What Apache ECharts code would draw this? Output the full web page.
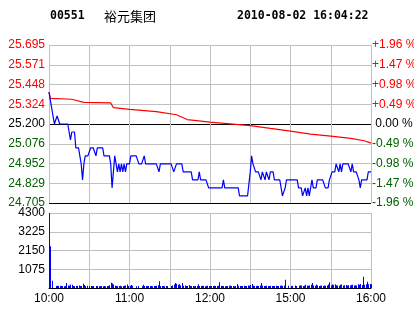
<!DOCTYPE html>
<html><head><meta charset="utf-8">
<script src="https://cdn.jsdelivr.net/npm/echarts@6/dist/echarts.min.js"></script>
<style>html,body{margin:0;padding:0;background:#fff}#c{width:414px;height:314px}</style>
</head><body><div id="c"></div>
<script>
const stockCode = '00551';
const stockName = '裕元集团';
const stamp = '2010-08-02 16:04:22';
const priceMin = 24.705, priceMax = 25.695;
const leftTicks = ['24.705','24.829','24.952','25.076','25.200','25.324','25.448','25.571','25.695'];
const rightTicks = ['-1.96 %','-1.47 %','-0.98 %','-0.49 %',' 0.00 %','+0.49 %','+0.98 %','+1.47 %','+1.96 %'];
const volMax = 4300, volStep = 1075;
const timeTicks = [0, 60, 120, 180, 240];
const timeLabels = ['10:00','11:00','12:00','15:00','16:00'];

// last price per minute (0 = 10:00 ... 240 = 16:00, lunch break removed)
const price = [
25.40,25.35,25.30,25.25,25.20,25.20,25.25,25.25,25.20,25.20,
25.20,25.20,25.20,25.20,25.20,25.15,25.10,25.15,25.15,25.15,
25.05,25.05,25.05,25.00,24.95,24.85,24.95,25.00,25.00,25.00,
25.00,25.05,25.05,25.05,25.05,25.00,25.05,25.05,25.05,25.05,
25.05,25.00,25.00,25.00,25.00,25.00,24.95,24.80,24.90,25.00,
24.95,24.90,24.95,24.90,24.95,24.90,24.95,24.90,24.95,24.95,
24.95,25.00,25.00,25.00,25.00,25.00,25.00,24.95,24.95,24.95,
24.95,25.00,24.95,24.95,24.95,24.95,24.95,24.95,24.95,24.95,
24.95,24.95,24.90,24.95,24.95,24.95,24.95,24.95,24.95,24.95,
24.95,24.95,24.95,24.90,24.90,24.95,24.95,24.95,24.95,24.95,
24.90,24.90,24.90,24.90,24.90,24.90,24.90,24.85,24.85,24.85,
24.85,24.85,24.90,24.85,24.85,24.85,24.85,24.85,24.85,24.80,
24.80,24.80,24.80,24.80,24.80,24.80,24.80,24.80,24.80,24.80,
24.85,24.80,24.80,24.80,24.80,24.80,24.80,24.80,24.80,24.80,
24.80,24.80,24.75,24.75,24.75,24.75,24.75,24.75,24.75,24.75,
24.90,25.00,24.95,24.95,24.90,24.90,24.90,24.90,24.85,24.90,
24.90,24.85,24.90,24.90,24.85,24.90,24.90,24.90,24.85,24.85,
24.85,24.85,24.85,24.80,24.75,24.75,24.80,24.85,24.85,24.85,
24.85,24.85,24.85,24.85,24.85,24.85,24.80,24.80,24.80,24.75,
24.75,24.80,24.75,24.80,24.75,24.80,24.85,24.80,24.80,24.80,
24.85,24.85,24.85,24.85,24.85,24.85,24.80,24.80,24.80,24.85,
24.85,24.90,24.90,24.90,24.95,24.95,24.90,24.95,24.90,24.95,
24.95,24.95,24.95,24.95,24.95,24.90,24.95,24.90,24.90,24.90,
24.90,24.85,24.80,24.85,24.85,24.85,24.85,24.85,24.90,24.90,
24.90
];

// average price line, read at minute positions
const avgMinutes = [0,1,17,26,46,48,60,80,95,103,120,135,150,165,180,195,210,225,235,240];
const avgValues  = [25.40,25.36,25.355,25.335,25.332,25.302,25.292,25.278,25.258,25.228,25.212,25.201,25.19,25.172,25.155,25.137,25.124,25.11,25.095,25.08];

const volume = [
4300,2400,420,0,0,120,130,120,130,120,
110,100,120,290,150,130,200,180,110,120,
110,130,150,120,110,240,170,120,130,0,
120,110,110,120,0,110,120,100,110,120,
100,110,100,110,120,160,300,260,200,130,
110,120,110,130,100,110,130,140,200,120,
130,170,130,0,0,100,110,0,0,100,
180,110,120,110,120,110,120,100,110,120,
130,160,380,120,110,120,100,110,120,0,
0,110,140,200,280,240,180,220,150,290,
130,140,110,120,170,120,110,120,100,110,
120,210,110,120,130,110,100,120,130,110,
120,110,120,130,110,120,130,330,130,110,
120,100,120,110,130,140,120,110,100,120,
230,130,120,110,120,130,110,120,140,130,
170,230,130,120,110,130,120,140,280,130,
120,110,130,120,110,130,120,110,120,130,
110,120,130,140,120,150,480,0,130,0,
120,130,0,140,120,0,130,160,140,120,
130,180,150,130,140,180,280,140,130,200,
150,120,130,140,120,150,130,140,200,330,
150,200,180,210,160,140,130,180,200,140,
160,170,150,160,140,170,180,150,160,140,
210,180,230,170,640,180,210,360,220,230,
220
];

const GRAY = '#c0c0c0';
const RED = '#ff0000', GREEN = '#006000', BLACK = '#000000', BLUE = '#0000ff';
function tickColor(i){ return i < 4 ? GREEN : (i === 4 ? BLACK : RED); }
const labelFont = { fontFamily: '"Liberation Sans", Arial, sans-serif', fontSize: 12 };

const chart = echarts.init(document.getElementById('c'), null, { renderer: 'canvas' });
chart.setOption({
  animation: false,
  backgroundColor: '#ffffff',
  grid: [
    { left: 49, top: 45, width: 322, height: 158, containLabel: false, outerBoundsMode: 'none' },
    { left: 49, top: 213, width: 322, height: 75, containLabel: false, outerBoundsMode: 'none' }
  ],
  graphic: [
    { type: 'text', x: 50, y: 16, style: { text: stockCode, fontFamily: '"DejaVu Sans Mono", monospace', fontWeight: 'bold', fontSize: 11.5, fill: '#000', verticalAlign: 'middle' } },
    { type: 'text', x: 104, y: 16, style: { text: stockName, fontFamily: '"Noto Sans CJK SC", sans-serif', fontSize: 13, fill: '#000', verticalAlign: 'middle' } },
    { type: 'text', x: 237, y: 16, style: { text: stamp, fontFamily: '"DejaVu Sans Mono", monospace', fontWeight: 'bold', fontSize: 11.5, fill: '#000', verticalAlign: 'middle' } }
  ],
  xAxis: [
    { gridIndex: 0, type: 'value', min: 0, max: 240, interval: 30,
      axisLine: { show: false }, axisTick: { show: false }, axisLabel: { show: false },
      splitLine: { show: true, lineStyle: { color: GRAY, width: 1 } } },
    { gridIndex: 1, type: 'value', min: 0, max: 240, interval: 30,
      axisLine: { show: true, onZero: false, lineStyle: { color: BLACK, width: 1 } }, axisTick: { show: false },
      axisLabel: Object.assign({ show: true, margin: 5, color: BLACK,
        formatter: v => { const k = timeTicks.indexOf(v); return k >= 0 ? timeLabels[k] : ''; } }, labelFont),
      splitLine: { show: true, lineStyle: { color: GRAY, width: 1 } } }
  ],
  yAxis: [
    { gridIndex: 0, type: 'value', min: priceMin, max: priceMax, show: false },
    { gridIndex: 0, type: 'value', position: 'left', min: 0, max: 8, interval: 1,
      axisLine: { show: false }, axisTick: { show: false },
      axisLabel: Object.assign({ margin: 4, formatter: v => leftTicks[v], color: (v) => tickColor(Math.round(Number(v))) }, labelFont),
      splitLine: { show: true, lineStyle: { width: 1, color: [BLACK, GRAY, GRAY, GRAY, BLACK, GRAY, GRAY, GRAY, GRAY] } } },
    { gridIndex: 0, type: 'value', position: 'right', min: 0, max: 8, interval: 1,
      axisLine: { show: false }, axisTick: { show: false },
      axisLabel: Object.assign({ margin: 1, formatter: v => rightTicks[v], color: (v) => tickColor(Math.round(Number(v))) }, labelFont),
      splitLine: { show: false } },
    { gridIndex: 1, type: 'value', min: 0, max: volMax, interval: volStep,
      axisLine: { show: false }, axisTick: { show: false },
      axisLabel: Object.assign({ margin: 4, color: BLACK, formatter: v => v === 0 ? '' : String(v) }, labelFont),
      splitLine: { show: true, lineStyle: { width: 1, color: [BLACK, GRAY, GRAY, GRAY, GRAY] } } }
  ],
  series: [
    { type: 'line', xAxisIndex: 0, yAxisIndex: 0, data: avgMinutes.map((m, i) => [m, avgValues[i]]),
      showSymbol: false, lineStyle: { color: RED, width: 1.2 }, z: 3 },
    { type: 'line', xAxisIndex: 0, yAxisIndex: 0, data: price.map((v, i) => [i, v]),
      showSymbol: false, lineStyle: { color: BLUE, width: 1.2 }, z: 4 },
    { type: 'custom', xAxisIndex: 1, yAxisIndex: 3, data: volume.map((v, i) => [i, v]),
      encode: { x: 0, y: 1 }, z: 4,
      renderItem: (params, api) => {
        const base = api.coord([api.value(0), 0]);
        const top = api.coord([api.value(0), api.value(1)]);
        return { type: 'rect', shape: { x: Math.round(base[0]), y: top[1], width: 1, height: base[1] - top[1] },
                 style: { fill: BLUE } };
      } }
  ]
});
</script>
</body></html>
